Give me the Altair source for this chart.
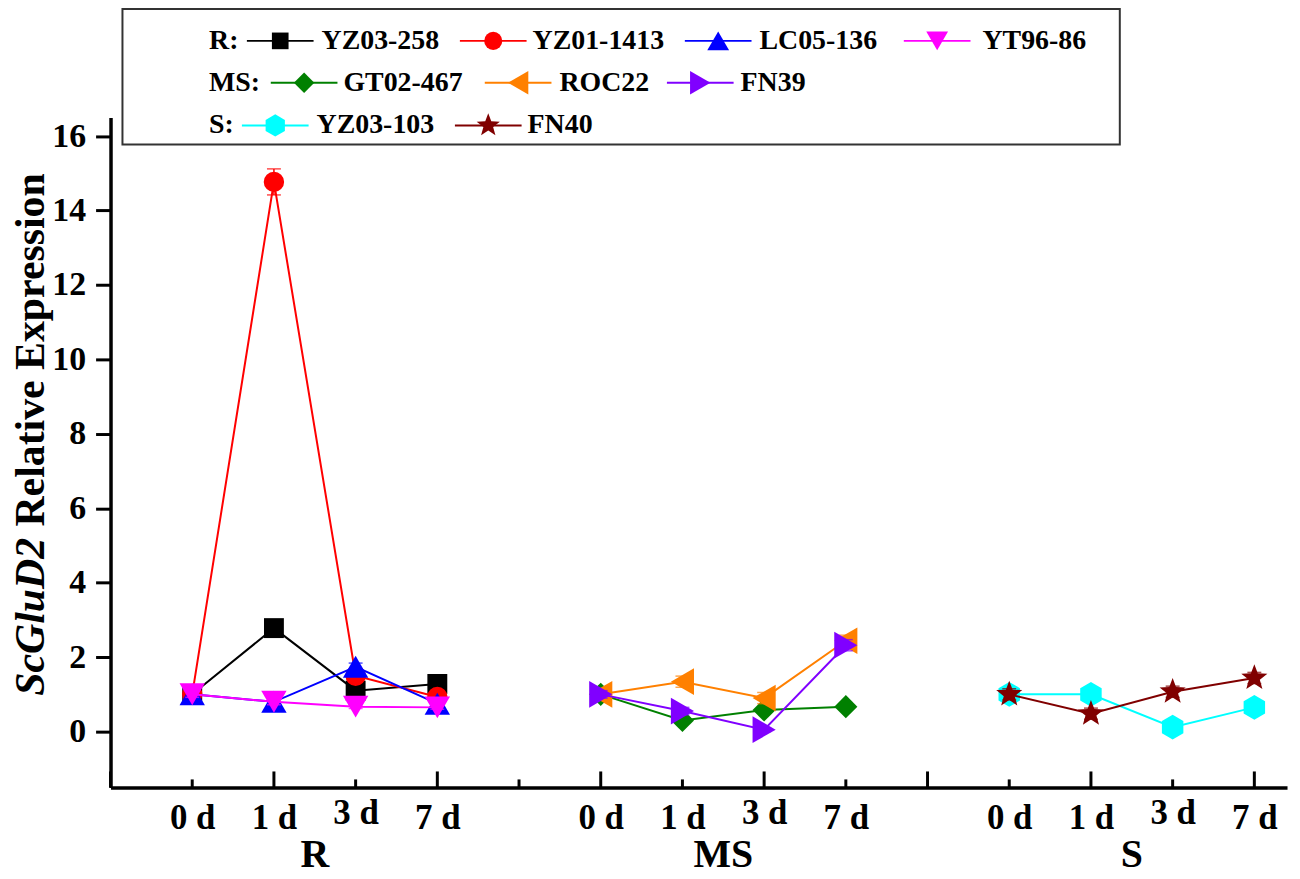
import math
import altair as alt
import pandas as pd

# ---------------- data ----------------
days = ["0 d", "1 d", "3 d", "7 d"]
groups = ["R", "MS", "S"]
series_names = ["YZ03-258", "YZ01-1413", "LC05-136", "YT96-86",
                "GT02-467", "ROC22", "FN39", "YZ03-103", "FN40"]
series_group = ["R", "R", "R", "R", "MS", "MS", "MS", "S", "S"]

yz03_258 = [1.00, 2.78, 1.10, 1.28]
yz01_1413 = [1.00, 14.77, 1.50, 0.93]
lc05_136 = [1.00, 0.80, 1.74, 0.75]
yt96_86 = [1.00, 0.80, 0.67, 0.65]
gt02_467 = [1.00, 0.30, 0.58, 0.67]
roc22 = [1.00, 1.34, 0.90, 2.44]
fn39 = [1.00, 0.55, 0.05, 2.32]
yz03_103 = [1.00, 1.00, 0.12, 0.65]
fn40 = [1.00, 0.48, 1.07, 1.44]

err_yz03_258 = [0.05, 0.08, 0.10, 0.06]
err_yz01_1413 = [0.05, 0.35, 0.10, 0.12]
err_lc05_136 = [0.10, 0.15, 0.10, 0.10]
err_yt96_86 = [0.08, 0.08, 0.05, 0.05]
err_gt02_467 = [0.10, 0.05, 0.05, 0.05]
err_roc22 = [0.12, 0.15, 0.15, 0.15]
err_fn39 = [0.10, 0.10, 0.05, 0.15]
err_yz03_103 = [0.05, 0.05, 0.05, 0.05]
err_fn40 = [0.15, 0.15, 0.15, 0.15]

values = [yz03_258, yz01_1413, lc05_136, yt96_86, gt02_467, roc22, fn39, yz03_103, fn40]
errors = [err_yz03_258, err_yz01_1413, err_lc05_136, err_yt96_86, err_gt02_467,
          err_roc22, err_fn39, err_yz03_103, err_fn40]

# ---------------- styles ----------------
FONT = "Liberation Serif"
colors = ["#000000", "#FF0000", "#0000FF", "#FF00FF", "#008000",
          "#FF8000", "#8000FF", "#00FFFF", "#800000"]
HEX = "M0,-1L0.866,-0.5L0.866,0.5L0,1L-0.866,0.5L-0.866,-0.5Z"
star_pts = []
for k in range(10):
    r = 1.0 if k % 2 == 0 else 0.42
    a = -math.pi / 2 + k * math.pi / 5
    star_pts.append(f"{r * math.cos(a):.3f},{r * math.sin(a):.3f}")
STAR = "M" + "L".join(star_pts) + "Z"
shapes = ["square", "circle", "triangle-up", "triangle-down", "diamond",
          "triangle-left", "triangle-right", HEX, STAR]
legend_sizes = [280, 330, 480, 480, 420, 560, 560, 500, 600]
point_sizes = [400, 420, 650, 650, 540, 720, 720, 620, 760]

W, H = 1182, 673
XDOM = [0, 14.4]
YDOM = [-1.5, 16.5]

# ---------------- table ----------------
rows = []
for name, grp, vals, errs in zip(series_names, series_group, values, errors):
    gi = groups.index(grp)
    for di, (v, e) in enumerate(zip(vals, errs)):
        rows.append(dict(series=name, group=grp, day=days[di],
                         x=gi * 5 + di + 1, y=v, lo=v - e, hi=v + e))
df = pd.DataFrame(rows)

# label per position 0..14
pos_labels = []
for gi in range(len(groups)):
    pos_labels.append("")
    pos_labels.extend(days)
label_arr = "[" + ",".join(f"'{s}'" for s in pos_labels) + "]"

xaxis = alt.Axis(values=list(range(0, 15)), labelExpr=f"{label_arr}[datum.value]",
                 ticks=False, tickSize=0,
                 labelPadding={"condition": {"test": "datum.value % 5 == 3", "value": 8},
                               "value": 13},
                 labelFont=FONT,
                 labelFontSize=35, labelFontWeight="bold", labelColor="black",
                 domainColor="black", domainWidth=3.5, grid=False, title=None,
                 labelOverlap=False, labelFlush=False)
yaxis = alt.Axis(values=list(range(0, 17, 2)), tickSize=15, tickWidth=3,
                 tickColor="black", labelPadding=10, labelFont=FONT,
                 labelFontSize=34, labelFontWeight="bold", labelColor="black",
                 domainColor="black", domainWidth=3.5, grid=False, title=None)

xs = alt.Scale(domain=XDOM, nice=False, zero=False)
ys = alt.Scale(domain=YDOM, nice=False, zero=False)


def X(field="x"):
    return alt.X(f"{field}:Q", scale=xs, axis=xaxis)


def Y(field="y"):
    return alt.Y(f"{field}:Q", scale=ys, axis=yaxis)


layers = []

# x-axis inner ticks (major every 2, minor every 1)
tick_df = pd.DataFrame({"x": list(range(0, 15))})
tick_df["major"] = tick_df["x"] % 2 == 0
layers.append(alt.Chart(tick_df[tick_df.major]).mark_rule(color="black", strokeWidth=3)
              .encode(x=X(), y=alt.value(H), y2=alt.value(H - 16)))
layers.append(alt.Chart(tick_df[~tick_df.major]).mark_rule(color="black", strokeWidth=3)
              .encode(x=X(), y=alt.value(H), y2=alt.value(H - 8)))

# series
for name, c, s, sz in zip(series_names, colors, shapes, point_sizes):
    sub = df[df.series == name]
    base = alt.Chart(sub)
    layers.append(base.mark_line(color=c, strokeWidth=2).encode(x=X(), y=Y()))
    layers.append(base.mark_rule(color=c, strokeWidth=1.5)
                  .encode(x=X(), y=Y("lo"), y2="hi:Q"))
    layers.append(base.transform_fold(["lo", "hi"], as_=["k", "v"])
                  .mark_tick(orient="horizontal", size=14, thickness=1.5, color=c)
                  .encode(x=X(), y=Y("v")))
    layers.append(base.mark_point(shape=s, filled=True, size=sz, color=c, opacity=1)
                  .encode(x=X(), y=Y()))

# group labels under the axis
gdf = pd.DataFrame({"group": groups,
                    "x": [df[df.group == g].x.mean() for g in groups]})
layers.append(alt.Chart(gdf).mark_text(font=FONT, fontSize=40, fontWeight="bold",
                                       baseline="middle", align="center", color="black")
              .encode(x=X(), y=alt.value(741), text="group:N"))

# y title (mixed italic / normal)
layers.append(alt.Chart(pd.DataFrame({"t": ["ScGluD2"]}))
              .mark_text(font=FONT, fontSize=42, fontWeight="bold", fontStyle="italic",
                         angle=270, align="left", baseline="middle", color="black")
              .encode(x=alt.value(-80), y=alt.value(581), text="t:N"))
layers.append(alt.Chart(pd.DataFrame({"t": ["Relative Expression"]}))
              .mark_text(font=FONT, fontSize=42, fontWeight="bold",
                         angle=270, align="left", baseline="middle", color="black")
              .encode(x=alt.value(-80), y=alt.value(411), text="t:N"))

# legend box
layers.append(alt.Chart(pd.DataFrame({"a": [0]}))
              .mark_rect(fill="white", stroke="#333333", strokeWidth=2)
              .encode(x=alt.value(12), x2=alt.value(1014), y=alt.value(-109), y2=alt.value(27)))

row_y = {"R": -77, "MS": -35, "S": 8}
slot_line_x = [137, 351, 577, 797, 161, 376, 559, 132, 346]
slot_label_x = [212, 424, 652, 876, 234, 451, 633, 207, 419]
LINE_LEN = 67
leg = pd.DataFrame({
    "label": series_names,
    "color": colors,
    "shape": shapes,
    "size": legend_sizes,
    "ly": [row_y[g] for g in series_group],
    "x1": slot_line_x,
    "x2": [v + LINE_LEN for v in slot_line_x],
    "xm": [v + LINE_LEN / 2 for v in slot_line_x],
    "xl": slot_label_x,
})
layers.append(alt.Chart(leg).mark_rule(strokeWidth=2)
              .encode(x=alt.X("x1:Q", scale=None), x2="x2:Q",
                      y=alt.Y("ly:Q", scale=None),
                      color=alt.Color("color:N", scale=None)))
layers.append(alt.Chart(leg).mark_point(filled=True, opacity=1)
              .encode(x=alt.X("xm:Q", scale=None), y=alt.Y("ly:Q", scale=None),
                      color=alt.Color("color:N", scale=None),
                      shape=alt.Shape("shape:N", scale=None),
                      size=alt.Size("size:Q", scale=None)))
layers.append(alt.Chart(leg).mark_text(font=FONT, fontSize=28, fontWeight="bold",
                                       align="left", baseline="middle", color="black")
              .encode(x=alt.X("xl:Q", scale=None), y=alt.Y("ly:Q", scale=None),
                      text="label:N"))
pre = pd.DataFrame({"t": [g + ":" for g in groups], "ly": [row_y[g] for g in groups]})
layers.append(alt.Chart(pre).mark_text(font=FONT, fontSize=28, fontWeight="bold",
                                       align="left", baseline="middle", color="black")
              .encode(x=alt.value(99), y=alt.Y("ly:Q", scale=None), text="t:N"))

chart = (alt.layer(*layers)
         .properties(width=W, height=H,
                     padding={"left": 103, "top": 108, "right": 5, "bottom": 88},
                     autosize=alt.AutoSizeParams(type="none"),
                     background="white")
         .configure_view(stroke=None))

chart.save("out.html", embed_options={"renderer": "svg", "actions": False})
